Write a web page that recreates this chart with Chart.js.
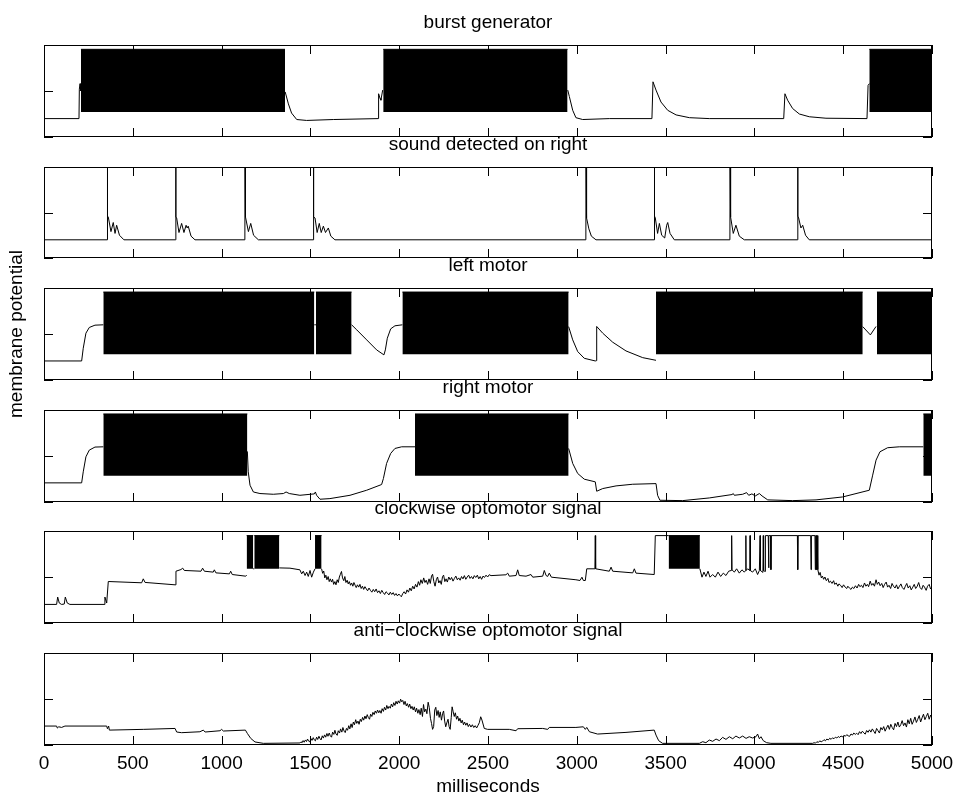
<!DOCTYPE html>
<html>
<head>
<meta charset="utf-8">
<title>membrane potential</title>
<script src="https://cdn.jsdelivr.net/npm/chart.js@4.4.1/dist/chart.umd.min.js"></script>
<style>
  html, body { margin: 0; padding: 0; background: #fff; }
  body { position: relative; width: 956px; height: 796px; overflow: hidden; }
  canvas { position: absolute; left: 0; }
</style>
</head>
<body>
<canvas id="c0"></canvas>
<canvas id="c1"></canvas>
<canvas id="c2"></canvas>
<canvas id="c3"></canvas>
<canvas id="c4"></canvas>
<canvas id="c5"></canvas>
<script>
// time axis in ms, and the (unlabelled) potential ticks of every panel
const xTicks = [0, 500, 1000, 1500, 2000, 2500, 3000, 3500, 4000, 4500, 5000];
const yTicks = [0, 50, 100];

const titles = ['burst generator', 'sound detected on right', 'left motor', 'right motor',
  'clockwise optomotor signal', 'anti\u2212clockwise optomotor signal'];

// membrane potential traces, [ms, relative potential 0-100]; null = hidden under a burst
const burstTrace = [[0,20],[197,20],[199,52],[203,58],[207,50],[800,null],
  [1358,49],[1376,36],[1394,26],[1423,19],[1479,18],[1629,19],[1882,20],[1884,47],[1892,42],[1897,40],[1907,51],[2400,null],
  [2949,51],[2958,44],[2977,29],[2995,21],[3033,19],[3183,20],[3423,20],[3429,60],[3446,51],[3474,38],[3512,29],[3559,24],
  [3634,21],[3746,20],[4165,20],[4172,47],[4187,40],[4215,31],[4253,25],[4309,22],[4403,20.4],[4634,20],[4640,56],[4647,58]];
// bursts: [start, end] of the dense spike trains, and their [bottom, top]
const burstBands = [[208,1357],[1910,2948],[4647,5000]];
const burstLevels = [27.3, 95.3];

const soundTrace = [[0,20],
  [356,20],[357,100],[358,46],[362,45],[377,29],[390,39],[400,27],[409,36],[425,25],[450,20],
  [741,20],[742,100],[743,45],[747,44],[760,28],[775,38],[788,28],[800,36],[806,33],[812,35],[828,24],[850,20],
  [1131,20],[1132,100],[1133,46],[1136,45],[1151,29],[1164,38],[1180,25],[1207,20],
  [1515,20],[1516,100],[1517,46],[1519,100],[1520,45],[1526,44],[1538,28],[1550,38],[1561,28],[1573,35],[1585,28],[1601,33],[1615,24],[1638,20],
  [3051,20],[3052,100],[3053,46],[3057,44],[3068,32],[3082,24],[3108,20],
  [3436,20],[3437,100],[3438,46],[3442,44],[3455,27],[3465,38],[3478,25],[3495,22],[3506,36],[3512,39],[3525,27],[3549,20],
  [3862,20],[3863,100],[3864,46],[3868,45],[3881,27],[3896,36],[3915,24],[3943,20],
  [4243,20],[4244,100],[4245,46],[4249,44],[4262,33],[4272,36],[4288,25],[4309,20],
  [5000,20]];

const leftTrace = [[0,20.7],[212,20.7],[221,34.5],[236,50.9],[255,57.1],[287,59.6],[334,60],[800,null],
  [1522,60],[1531,60],[1600,null],
  [1732,60],[1761,54.5],[1817,43.6],[1873,32.7],[1914,27.3],[1922,32.7],[1933,45.4],[1952,55.6],[1976,58.9],[2018,60],[2500,null],
  [2954,58],[2977,43.6],[3005,30.9],[3042,23.6],[3104,20.7],[3110,21],[3112,58.2],[3146,50.9],[3202,41.1],[3277,31.6],
  [3371,24.3],[3446,21.4],[4000,null],
  [4610,58],[4653,49],[4685,58.2],[4690,58.2]];
const leftBands = [[334,1522],[1531,1732],[2018,2954],[3446,4610],[4690,5000]];
const leftLevels = [28, 95.6];

const rightTrace = [[0,20.8],[212,20.8],[221,32.8],[236,49.1],[255,56.4],[287,59.7],[334,60],[700,null],
  [1145,55],[1150,32.8],[1160,18.2],[1179,10.9],[1216,9.2],[1291,8.4],[1348,9.2],[1363,10.9],[1381,9.2],[1441,7.3],[1522,8.8],
  [1528,10.9],[1535,7.3],[1554,3],[1610,3.7],[1723,7.3],[1817,12.8],[1901,19],[1911,25.5],[1929,41.9],[1952,52.8],[1976,58.2],
  [2014,60],[2089,60],[2500,null],
  [2954,58.2],[2977,41.9],[3005,31],[3042,24.8],[3104,21.9],[3112,11.7],[3146,14.6],[3221,17.5],[3315,19.3],[3446,20],[3455,7.3],
  [3468,1.9],[3596,1.5],[3746,4.4],[3874,8.1],[3881,9.2],[3887,7.3],[3934,8.4],[3956,10.2],[3968,7.3],[3986,8.8],[4005,6.6],
  [4028,9.2],[4043,6.6],[4075,2.3],[4215,1.5],[4347,2.3],[4497,5.5],[4647,12.8],[4666,29.2],[4685,45.5],[4707,54.6],[4750,59],
  [4816,60],[4951,60]];
const rightBands = [[334,1145],[2089,2954],[4951,5000]];
const rightLevels = [28.4, 95.7];

const cwTrace = [[0,20.2],[71,20.2],[77,28.2],[86,21.7],[99,20.2],[114,20.6],[120,28.2],[131,21.7],[146,20.2],[338,20.2],[343,28.2],
  [353,21.7],[362,45.1],[550,43.7],[559,48],[569,44.1],[738,41.5],[743,56.3],[771,58.1],[781,59.6],[790,57.1],[884,56.3],[893,59.6],
  [903,56.3],[953,55.3],[959,57.8],[968,54.5],[1044,53.4],[1051,56.3],[1060,52.7],[1136,50.9],[1141,52],[1160,null],
  [1178,58.9],[1184,58.9],[1250,null],
  [1325,59.9],[1385,59.6],[1441,57.8],[1451,53.4],[1460,56.3],[1470,51.6],[1479,55.3],[1488,50.6],[1498,57.1],[1507,49.8],
  [1517,55.3],[1526,58.9],[1540,null],
  [1563,58.9],[1569,54],[1575,56.5],[1581,49],[1587,52],[1593,47],[1600,50.5],[1606,45],[1612,48],[1619,44.5],[1625,47.5],
  [1631,42],[1638,45],[1644,41.5],[1651,47],[1657,44],[1663,50],[1669,53],[1675,56],[1681,49],[1688,46],[1694,50.5],[1700,44],
  [1707,46.5],[1713,42.5],[1719,45],[1726,41],[1732,43.5],[1739,40],[1745,44],[1752,41],[1758,38.5],[1765,41.5],[1772,39],
  [1779,42],[1786,37.5],[1793,40],[1800,36.5],[1807,39.5],[1815,37],[1822,35],[1830,38],[1838,35.5],[1846,33.5],[1854,36.5],
  [1862,34],[1870,37],[1878,33],[1886,35],[1894,32],[1902,35.5],[1910,33],[1918,31],[1926,34],[1934,32.5],[1942,30.5],
  [1950,33.5],[1958,31],[1966,33],[1974,30],[1982,32],[1990,29.5],[1998,31.5],[2005,30],[2012,28.5],[2020,32],[2028,34],
  [2036,31.5],[2044,36],[2052,33.5],[2060,38],[2068,35],[2076,40],[2084,37],[2092,42],[2100,39],[2108,45],[2115,41],[2122,47],
  [2130,43],[2138,49],[2145,44],[2152,46.5],[2160,42],[2168,48],[2175,43],[2182,51],[2188,53],[2195,45],[2202,40],[2209,47],
  [2216,50],[2223,43.5],[2230,46],[2237,42],[2244,50.5],[2250,52],[2257,45],[2264,48],[2271,44.5],[2279,50],[2287,47],
  [2295,49.5],[2303,45.5],[2311,48.5],[2319,51],[2327,47],[2335,49],[2343,46.5],[2351,50.5],[2359,48],[2367,51.5],[2375,47.5],
  [2383,50],[2391,52],[2399,48.5],[2407,50.5],[2415,48],[2423,51.5],[2431,49.5],[2440,52],[2448,48],[2456,50.5],[2464,47.5],
  [2472,51],[2480,49.5],[2489,52],[2498,50],[2507,52.5],[2517,51.5],
  [2601,52.4],[2611,54.2],[2620,50.9],[2658,51.6],[2667,57.8],[2676,51.6],[2714,50.9],[2742,52.7],[2752,49.8],[2808,50.9],
  [2817,57.1],[2827,51.6],[2836,50.6],[2845,54.2],[2857,49.8],[2995,47],[3018,46.2],[3029,49.8],[3037,46.2],[3048,46.2],
  [3056,58.9],[3102,58.9],[3104,95],[3106,58.9],[3183,56.3],[3193,60.7],[3202,56.3],[3315,54.5],[3324,58.9],[3333,54.2],
  [3436,52.7],[3442,95],[3517,95],[3600,null],
  [3693,58.9],[3705,49.8],[3716,55.3],[3727,50.6],[3739,56.3],[3750,49.8],[3765,52.7],[3780,49.8],[3795,55.3],[3810,50.6],
  [3825,54.2],[3840,51.6],[3855,56.3],[3870,57.1],[3872,95],[3874,57.8],[3887,55.3],[3900,58.9],[3915,54.2],[3930,57.8],
  [3943,55.3],[3951,57],[3952,95],[3953,57],[3962,58.9],[3975,57],[3976,95],[3977,57],[3990,55.3],[4005,58.9],[4018,52.7],
  [4028,57.1],[4032,95],[4034,57],[4048,55],[4050,95],[4052,57],[4060,56],[4062,95],[4078,95],[4080,60],[4082,95],[4091,95],
  [4093,58],[4095,95],[4242,95],[4244,58],[4246,95],[4317,95],[4319,58],[4321,95],[4341,95],[4343,58],[4345,95],[4349,95],
  [4351,58],[4353,95],[4356,95],[4358,58],
  [4364,52],[4370,55],[4377,49],[4383,51],[4390,47.5],[4397,50],[4405,46],[4414,48.5],[4420,44],[4428,45.5],[4437,43],[4446,46],
  [4452,42],[4461,43.5],[4470,40],[4476,42.5],[4485,41],[4494,38.5],[4502,41.5],[4511,39],[4520,37.5],[4526,40],[4535,38],
  [4544,36.5],[4552,39],[4560,37.5],[4569,40.5],[4578,38],[4587,42],[4594,39.5],[4603,41],[4611,38.5],[4620,43.5],[4628,40],
  [4636,42],[4643,39.5],[4652,45.5],[4660,41],[4668,43],[4676,40],[4685,47],[4692,42],[4700,44.5],[4708,40.5],[4717,43],
  [4725,38.5],[4733,42],[4742,44.5],[4750,39],[4758,41],[4767,37.5],[4775,43],[4783,40],[4792,38],[4800,41.5],[4808,37],
  [4817,40],[4825,42.5],[4833,38.5],[4842,36.5],[4850,40],[4858,43],[4866,38],[4875,40.5],[4883,36],[4892,39],[4900,42],
  [4908,37.5],[4917,40],[4925,44],[4933,38.5],[4942,36.5],[4950,41],[4958,39],[4967,35.5],[4975,40],[4984,42],[4992,37],[5000,39]];
const cwBands = [[1141,1178],[1184,1325],[1526,1563],[3517,3693]];
const cwLevels = [58.9, 95];

const acwTrace = [[0,20.6],[71,20.6],[75,18.4],[83,19.8],[99,19.1],[118,20.6],[353,20.6],[357,17.7],[364,20.6],[368,16.2],
  [559,17],[738,18],[747,14.1],[775,13.4],[878,14.4],[897,16.2],[907,14.1],[991,15.5],[1000,17],[1010,15.2],[1134,16.2],
  [1145,12.6],[1164,7.2],[1188,3.3],[1235,1.8],
  [1441,2.2],[1447,3.5],[1453,2.4],[1459,4.8],[1465,3],[1472,5.5],[1478,3.8],[1484,6.5],[1490,4.2],[1497,3.4],[1503,7],[1509,5],
  [1516,8],[1522,5.5],[1528,4.5],[1535,8.5],[1541,6],[1548,9.5],[1554,7],[1560,5.5],[1567,10],[1573,7.5],[1580,11],[1586,8.5],
  [1593,12.5],[1599,9.5],[1606,13],[1612,10],[1619,8.5],[1625,14],[1632,11.5],[1638,16],[1644,12],[1651,10.5],[1657,15.5],
  [1664,13],[1670,17.5],[1677,14],[1683,19],[1690,15],[1696,13.5],[1703,18],[1709,16],[1716,21],[1722,17.5],[1729,23],[1735,19],
  [1742,25],[1748,22],[1755,27.5],[1761,23.5],[1768,26],[1774,22.5],[1781,28],[1787,25.5],[1794,30],[1800,27],[1807,31.5],
  [1813,28.5],[1820,33],[1826,30],[1833,28],[1839,33.5],[1846,31],[1852,35.5],[1859,33],[1865,37],[1872,34.5],[1878,38],
  [1885,35],[1891,37.5],[1898,34.5],[1904,39.5],[1911,36.5],[1917,41],[1924,38],[1930,43],[1937,39.5],[1943,42],[1950,40],
  [1956,44.5],[1963,41.5],[1969,46],[1976,43],[1982,47.5],[1989,44.5],[1995,48],[2002,45.5],[2008,49.8],[2014,47],[2020,48.5],
  [2027,44],[2033,47.5],[2040,42.5],[2046,45],[2053,41],[2059,44.5],[2066,39.5],[2072,42],[2079,38],[2085,41.5],[2092,36],
  [2098,40],[2105,34.5],[2111,38.5],[2118,33],[2124,40],[2131,31],[2137,44],[2143,36],[2150,39],[2156,34],[2163,46.5],[2169,41],
  [2176,29],[2182,23.5],[2188,17],[2194,20],[2200,38],[2206,41],[2212,32],[2219,37.5],[2225,30],[2231,36],[2238,27],[2244,34],
  [2250,37],[2256,26],[2262,19.8],[2268,24],[2275,28],[2281,20],[2287,17],[2293,30],[2298,41.5],[2304,36],[2310,31],[2316,35],
  [2323,28],[2329,31.5],[2336,26],[2342,29],[2349,24],[2355,27],[2362,22],[2368,25],[2375,21.5],[2382,24],[2389,20],
  [2396,22.5],[2404,19.5],[2412,22],[2420,19],[2428,21],[2436,18.5],[2444,21.5],[2451,24.2],[2459,30.7],[2466,27.1],[2479,18],
  [2498,17],[2620,17],[2658,15.5],[2667,17.7],[2808,18],[2836,17],[2845,19.1],[2995,19.1],[3037,19.8],[3048,17],[3056,19.1],
  [3071,14.4],[3117,11.9],[3277,13.7],[3436,16.2],[3446,10.8],[3461,4.7],[3483,1.8],[3690,1.8],[3709,3.6],[3727,2.5],[3746,5.4],
  [3765,4],[3784,6.5],[3803,4.7],[3821,8.3],[3840,6.1],[3859,9],[3878,6.8],[3896,9.7],[3915,7.6],[3934,9.7],[3953,7.2],[3971,9],
  [3990,7.6],[4009,9],[4018,11.9],[4028,6.8],[4037,9],[4050,4.7],[4069,2.5],[4093,1.8],
  [4328,1.8],[4336,2.5],[4344,2],[4352,3.6],[4360,2.8],[4368,4.5],[4376,3.5],[4384,4.2],[4392,5.8],[4400,4.6],[4408,6.5],
  [4416,5.5],[4424,7.3],[4432,6.2],[4440,7.8],[4448,6.8],[4456,8.5],[4464,7.6],[4472,9.2],[4480,8.2],[4488,9.8],[4496,8.8],
  [4504,10.5],[4512,9.5],[4520,11.2],[4528,10],[4536,9.4],[4544,12],[4552,10.8],[4560,13],[4568,11.5],[4576,12.8],[4584,11.2],
  [4592,14.5],[4600,12.5],[4608,15],[4616,13.2],[4624,11.8],[4632,15.8],[4640,13.8],[4648,16.5],[4656,14],[4664,17.5],[4672,15],
  [4680,12.5],[4688,18],[4696,15.5],[4704,13],[4712,19],[4720,16.5],[4728,20],[4736,15],[4744,18.5],[4752,21.5],[4760,17],
  [4768,22.5],[4776,19],[4784,16.5],[4792,23.5],[4800,20],[4808,25],[4816,19.5],[4824,22],[4832,26.5],[4840,21],[4848,24],
  [4856,19.5],[4864,27.5],[4872,23],[4880,29],[4888,22.5],[4896,26],[4904,30.5],[4912,24.5],[4920,28],[4928,32],[4936,25],
  [4944,29.5],[4952,33.5],[4960,27.5],[4968,31],[4976,34.5],[4984,28],[4992,32.5],[5000,29]];

const traces = [burstTrace, soundTrace, leftTrace, rightTrace, cwTrace, acwTrace];
const bands = [burstBands, [], leftBands, rightBands, cwBands, []];
const bandLevels = [burstLevels, null, leftLevels, rightLevels, cwLevels, null];

// page layout: top and height of every plot box
const plotTop = [45, 167, 288, 410, 531, 653];
const plotHeight = [92, 91, 92, 92, 92, 92];
const titleBox = 38;
const tickLen = 9;

Chart.defaults.font.family = "'Liberation Sans', Arial, Helvetica, sans-serif";
Chart.defaults.font.size = 19;
Chart.defaults.color = '#000';

// matlab style box with inward ticks on all four sides
const boxTicks = {
  id: 'boxTicks',
  afterDatasetsDraw(chart) {
    const { ctx, chartArea: { left, right, top, bottom }, scales: { x, y } } = chart;
    ctx.save();
    ctx.strokeStyle = '#000';
    ctx.lineWidth = 1;
    ctx.beginPath();
    xTicks.forEach(v => {
      const px = Math.round(x.getPixelForValue(v)) + 0.5;
      ctx.moveTo(px, bottom); ctx.lineTo(px, bottom - tickLen);
      ctx.moveTo(px, top); ctx.lineTo(px, top + tickLen);
    });
    yTicks.forEach(v => {
      const py = Math.round(y.getPixelForValue(v)) + 0.5;
      ctx.moveTo(left, py); ctx.lineTo(left + tickLen, py);
      ctx.moveTo(right, py); ctx.lineTo(right - tickLen, py);
    });
    ctx.stroke();
    ctx.strokeRect(left + 0.5, top + 0.5, right - left - 1, bottom - top - 1);
    ctx.restore();
  }
};

traces.forEach((trace, i) => {
  const canvas = document.getElementById('c' + i);
  const hasYTitle = i === 2;
  const isBottom = i === 5;
  const extraTop = hasYTitle ? 50 : 0;
  const extraBottom = hasYTitle ? 45 : (isBottom ? 53 : 2);
  canvas.width = 956;
  canvas.height = titleBox + extraTop + plotHeight[i] + extraBottom;
  canvas.style.top = (plotTop[i] - titleBox - extraTop) + 'px';

  const datasets = [];
  bands[i].forEach(b => {
    datasets.push({
      data: [{ x: b[0], y: bandLevels[i][1] }, { x: b[1], y: bandLevels[i][1] }],
      borderColor: '#000',
      borderWidth: 1,
      backgroundColor: '#000',
      pointRadius: 0,
      fill: { value: bandLevels[i][0] }
    });
  });
  datasets.push({
    data: trace.map(p => ({ x: p[0], y: p[1] })),
    borderColor: '#000',
    borderWidth: 1,
    pointRadius: 0,
    fill: false,
    spanGaps: false
  });

  new Chart(canvas, {
    type: 'line',
    data: { datasets: datasets },
    plugins: [boxTicks],
    options: {
      responsive: false,
      animation: false,
      events: [],
      layout: {
        padding: { left: hasYTitle ? 5 : 44, right: 24, top: extraTop, bottom: isBottom ? 0 : extraBottom }
      },
      plugins: {
        legend: { display: false },
        tooltip: { enabled: false },
        title: {
          display: true,
          text: titles[i],
          fullSize: false,
          color: '#000',
          font: { size: 19, weight: 'normal' },
          padding: { top: 4, bottom: 11.2 }
        }
      },
      scales: {
        x: {
          type: 'linear',
          min: 0,
          max: 5000,
          display: isBottom,
          afterBuildTicks: s => { s.ticks = xTicks.map(v => ({ value: v })); },
          afterFit: s => { if (isBottom) s.height = 53; },
          grid: { display: false, drawTicks: true, tickLength: 5 },
          border: { display: false },
          ticks: { padding: 2, maxRotation: 0, autoSkip: false, color: '#000', callback: v => String(v) },
          title: { display: true, text: 'milliseconds', color: '#000', padding: { top: 0, bottom: 0 } }
        },
        y: {
          min: 0,
          max: 100,
          display: hasYTitle,
          afterFit: s => { if (hasYTitle) s.width = 39; },
          grid: { display: false, drawTicks: false },
          border: { display: false },
          ticks: { display: false },
          title: { display: true, text: 'membrane potential', color: '#000', padding: { top: 0, bottom: 0 } }
        }
      }
    }
  });
});
</script>
</body>
</html>
